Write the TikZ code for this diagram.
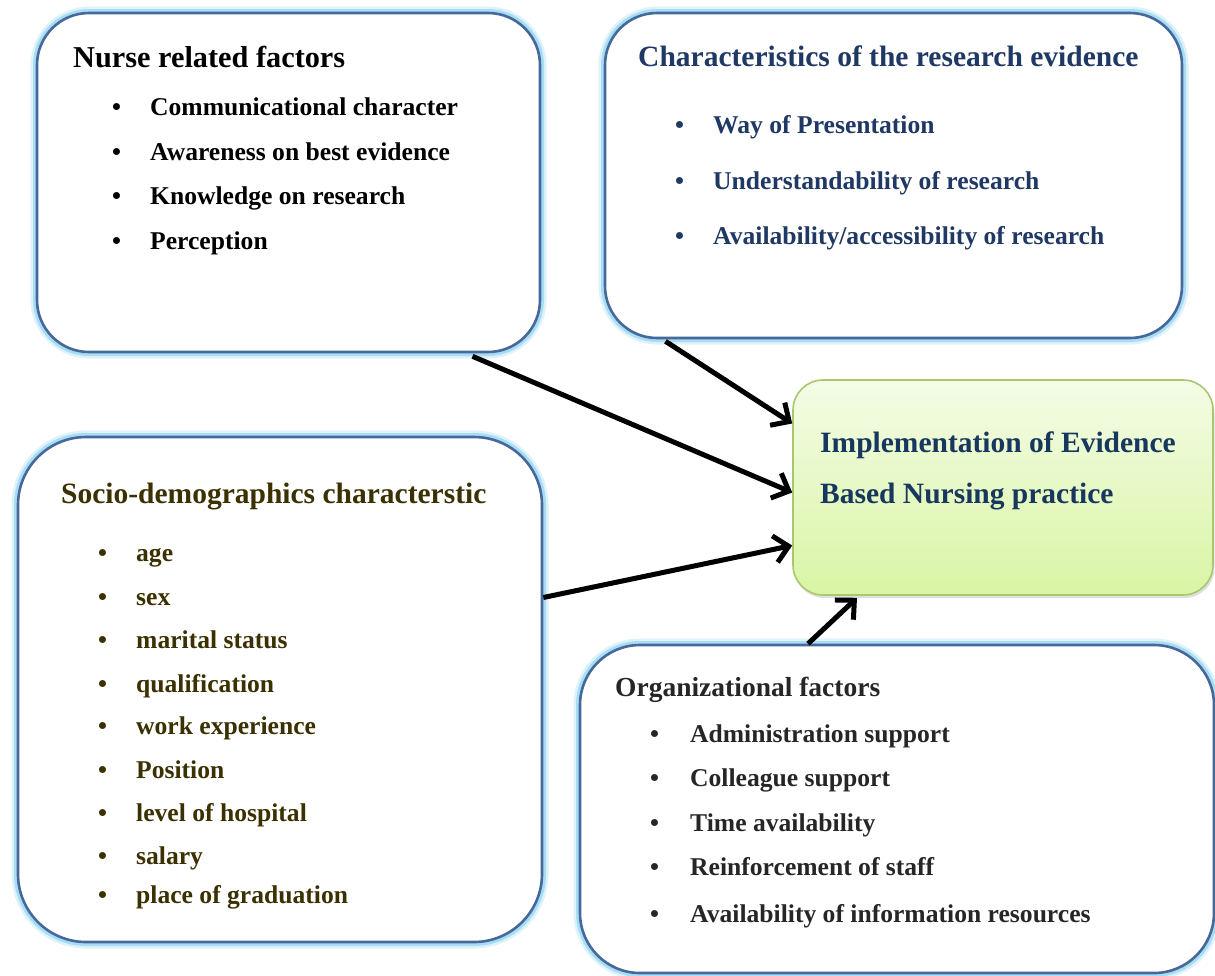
\documentclass[tikz,border=0pt]{standalone}
\usepackage{fontspec}
\setmainfont{Liberation Serif}
\usetikzlibrary{arrows.meta,shadows,calc}

\definecolor{frameblue}{HTML}{46689A}
\definecolor{haloblue}{HTML}{A8DDF4}
\definecolor{halosoft}{HTML}{DDF2FB}
\definecolor{leafedge}{HTML}{A9C86E}
\definecolor{leaftop}{HTML}{F4FCE6}
\definecolor{leafbot}{HTML}{D9F5A4}
\definecolor{navytext}{HTML}{1F3864}
\definecolor{deepnavy}{HTML}{17375E}
\definecolor{olivetext}{HTML}{3B3000}
\definecolor{graytext}{HTML}{262626}

\tikzset{
  factorbox/.style={
    rectangle, fill=white, draw=frameblue, line width=2.6pt,
    preaction={draw=halosoft, line width=13pt},
    preaction={draw=haloblue, line width=8pt},
    inner sep=0pt},
  goalbox/.style={
    rectangle, draw=leafedge, line width=1.6pt, rounded corners=30pt,
    top color=leaftop, bottom color=leafbot,
    drop shadow={opacity=0.25, shadow xshift=1.5pt, shadow yshift=-3pt},
    inner sep=0pt},
  heading/.style={anchor=base west, inner sep=0pt, font=\bfseries\fontsize{29.5}{35}\selectfont},
  entry/.style={anchor=base west, inner sep=0pt, font=\bfseries\fontsize{25.6}{30}\selectfont},
  link/.style={line width=5pt, -{Straight Barb[length=14pt, width=27pt]}}
}
% bullet followed by its item text, the bullet box fixing the indent
\newcommand{\bulletitem}[2]{\makebox[#1pt][l]{\textbullet}#2}

\begin{document}
\begin{tikzpicture}[x=1pt, y=-1pt]
\useasboundingbox (0,0) rectangle (1215,975);
\clip (0,0) rectangle (1215,975);

% ---- boxes ----
\node[factorbox, rounded corners=52pt, minimum width=503pt, minimum height=339pt]
  (nurse) at (288.5,182.5) {};
\node[factorbox, rounded corners=52pt, minimum width=577pt, minimum height=325pt]
  (evid) at (893.5,175.5) {};
\node[factorbox, rounded corners=68pt, minimum width=524pt, minimum height=505pt]
  (socio) at (280,689.5) {};
\node[factorbox, rounded corners=60pt, minimum width=634pt, minimum height=328pt]
  (org) at (897,809) {};
\node[goalbox, minimum width=420pt, minimum height=215pt]
  (ebnp) at (1003,487.5) {};

% ---- nurse related factors ----
\begin{scope}[every node/.style={text=black}]
\node[heading, font=\bfseries\fontsize{30.3}{36}\selectfont] (nurseT) at (73,67) {Nurse related factors};
\node[entry] (nurse1) at (112,115) {\bulletitem{38}{Communicational character}};
\node[entry] (nurse2) at (112,160) {\bulletitem{38}{Awareness on best evidence}};
\node[entry] (nurse3) at (112,204) {\bulletitem{38}{Knowledge on research}};
\node[entry] (nurse4) at (112,249) {\bulletitem{38}{Perception}};
\end{scope}

% ---- characteristics of the evidence ----
\begin{scope}[every node/.style={text=navytext}]
\node[heading] (evidT) at (638,66) {Characteristics of the research evidence};
\node[entry] (evid1) at (675,133) {\bulletitem{38}{Way of Presentation}};
\node[entry] (evid2) at (675,189) {\bulletitem{38}{Understandability of research}};
\node[entry] (evid3) at (675,244) {\bulletitem{38}{Availability/accessibility of research}};
\end{scope}

% ---- outcome ----
\node[heading, text=deepnavy] (ebnp1) at (820,452) {Implementation of Evidence};
\node[heading, text=deepnavy] (ebnp2) at (820,503) {Based Nursing practice};

% ---- socio-demographics ----
\begin{scope}[every node/.style={text=olivetext}]
\node[heading] (socioT) at (61,503) {Socio-demographics characterstic};
\node[entry] (socio1) at (98,561) {\bulletitem{38}{age}};
\node[entry] (socio2) at (98,605) {\bulletitem{38}{sex}};
\node[entry] (socio3) at (98,648) {\bulletitem{38}{marital status}};
\node[entry] (socio4) at (98,692) {\bulletitem{38}{qualification}};
\node[entry] (socio5) at (98,734) {\bulletitem{38}{work experience}};
\node[entry] (socio6) at (98,778) {\bulletitem{38}{Position}};
\node[entry] (socio7) at (98,821) {\bulletitem{38}{level of hospital}};
\node[entry] (socio8) at (98,864) {\bulletitem{38}{salary}};
\node[entry] (socio9) at (98,903) {\bulletitem{38}{place of graduation}};
\end{scope}

% ---- organizational factors ----
\begin{scope}[every node/.style={text=graytext}]
\node[heading, font=\bfseries\fontsize{27.5}{33}\selectfont] (orgT) at (615,696) {Organizational factors};
\node[entry] (org1) at (650,742) {\bulletitem{40}{Administration support}};
\node[entry] (org2) at (650,786) {\bulletitem{40}{Colleague support}};
\node[entry] (org3) at (650,831) {\bulletitem{40}{Time availability}};
\node[entry] (org4) at (650,875) {\bulletitem{40}{Reinforcement of staff}};
\node[entry] (org5) at (650,922) {\bulletitem{40}{Availability of information resources}};
\end{scope}

% ---- influences on the outcome ----
\draw[link] ([xshift=184pt, yshift=-3pt]nurse.south) -- ([yshift=-5pt]ebnp.west);
\draw[link] ([xshift=-228pt, yshift=-2pt]evid.south) -- ([yshift=64pt]ebnp.west);
\draw[link] ([yshift=92pt]socio.east) -- ([yshift=-58pt]ebnp.west);
\draw[link] ([xshift=-89pt]org.north) -- ([xshift=-146pt, yshift=-2pt]ebnp.south);
\end{tikzpicture}
\end{document}
